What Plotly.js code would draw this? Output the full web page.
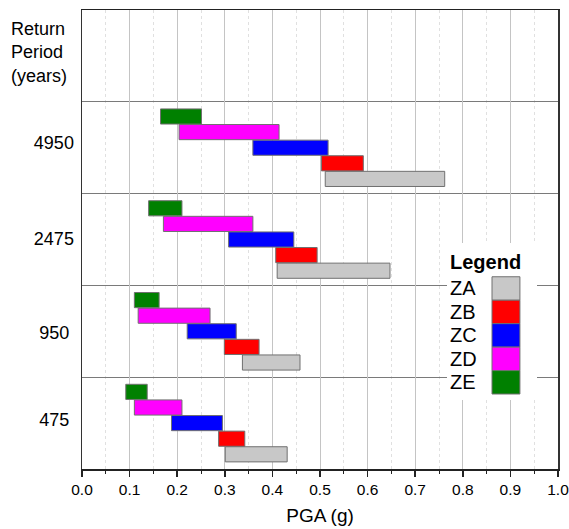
<!DOCTYPE html>
<html><head><meta charset="utf-8">
<script src="https://cdn.plot.ly/plotly-3.0.1.min.js"></script>
<style>html,body{margin:0;padding:0;background:#fff}#chart{width:569px;height:529px}</style>
</head><body><div id="chart"></div>
<script>
// Categories
const returnPeriods = ['475', '950', '2475', '4950'];
const periodLabels = ['475\u2005', '950\u2005', '2475', '4950'];
const zones = ['ZA', 'ZB', 'ZC', 'ZD', 'ZE'];
const zoneColors = ['#c8c8c8', '#ff0000', '#0000ff', '#ff00ff', '#008000'];
const pgaTicks = [0, 0.1, 0.2, 0.3, 0.4, 0.5, 0.6, 0.7, 0.8, 0.9, 1.0];

// PGA ranges (g), one value per return period [475, 950, 2475, 4950]
const zaLow  = [0.301, 0.337, 0.410, 0.511];
const zaHigh = [0.431, 0.458, 0.647, 0.762];
const zbLow  = [0.287, 0.299, 0.407, 0.503];
const zbHigh = [0.342, 0.372, 0.494, 0.591];
const zcLow  = [0.188, 0.221, 0.308, 0.359];
const zcHigh = [0.295, 0.324, 0.445, 0.517];
const zdLow  = [0.110, 0.118, 0.171, 0.204];
const zdHigh = [0.210, 0.269, 0.359, 0.414];
const zeLow  = [0.092, 0.110, 0.140, 0.165];
const zeHigh = [0.137, 0.162, 0.210, 0.251];

const lows  = [zaLow, zbLow, zcLow, zdLow, zeLow];
const highs = [zaHigh, zbHigh, zcHigh, zdHigh, zeHigh];

const FONT = '"Liberation Sans", Arial, Helvetica, sans-serif';
const offsets = [0.16, 0.33, 0.5, 0.67, 0.84]; // slot of each zone inside a band
const barH = 0.165;

const traces = [];
zones.forEach((z, i) => {
  traces.push({
    type: 'bar', orientation: 'h', name: z,
    y: returnPeriods.map((_, k) => k + offsets[i]),
    base: lows[i],
    x: highs[i].map((h, k) => h - lows[i][k]),
    width: barH,
    marker: {color: zoneColors[i], line: {color: '#707070', width: 1}},
    xaxis: 'x', yaxis: 'y', showlegend: false, hoverinfo: 'skip'
  });
});
// custom legend panel drawn as a tiny bar subplot
traces.push({
  type: 'bar', orientation: 'h',
  y: zones.map((_, i) => 4 - i),
  base: zones.map(() => 0.5),
  x: zones.map(() => 0.31),
  width: 1,
  marker: {color: zoneColors, line: {color: '#707070', width: 1}},
  xaxis: 'x3', yaxis: 'y3', showlegend: false, hoverinfo: 'skip'
});

const layout = {
  width: 569, height: 529,
  margin: {l: 82, r: 11, t: 10, b: 60},
  paper_bgcolor: '#ffffff', plot_bgcolor: '#ffffff',
  font: {family: FONT, color: '#000000', size: 16},
  showlegend: false, barmode: 'overlay',
  xaxis: {
    range: [0, 1], tickmode: 'array', tickvals: pgaTicks,
    ticktext: pgaTicks.map(v => v.toFixed(1)), ticklabeloverflow: 'allow',
    showline: true, linecolor: '#222', linewidth: 1.5, mirror: true,
    ticks: 'outside', ticklen: 6, tickwidth: 1.5, tickcolor: '#222',
    showgrid: true, gridcolor: '#c4c4c4', gridwidth: 1, zeroline: false,
    tickfont: {size: 15.5, color: '#000'},
    title: {text: 'PGA (g)', font: {size: 19, color: '#000'}, standoff: 11},
    minor: {tickmode: 'linear', tick0: 0, dtick: 0.05, ticks: 'outside', ticklen: 3,
            tickcolor: '#222', tickwidth: 1,
            showgrid: true, gridcolor: '#e0e0e0', griddash: 'dot', gridwidth: 1},
    fixedrange: true
  },
  yaxis: {
    range: [0, 5], tickmode: 'array', tickvals: [0.533, 1.48, 2.51, 3.555], ticktext: periodLabels,
    showline: true, linecolor: '#333', linewidth: 1.5, mirror: true,
    ticks: '', showgrid: false, zeroline: false,
    tickfont: {size: 18, color: '#000'}, ticklabelstandoff: 3, fixedrange: true,
    minor: {tickmode: 'array', tickvals: [1, 2, 3, 4], ticks: '',
            showgrid: true, gridcolor: '#7a7a7a', gridwidth: 1}
  },
  xaxis3: {domain: [0.7668, 0.9559], anchor: 'y3', range: [0, 1],
    showgrid: false, showticklabels: false, ticks: '', showline: false, zeroline: false},
  yaxis3: {domain: [0.1503, 0.4924], anchor: 'x3', range: [-0.755, 5.94],
    tickmode: 'array', tickvals: [4, 3, 2, 1, 0, 5.13], ticktext: zones.concat(['<b>Legend</b>']),
    ticklabelposition: 'inside', ticks: '', showgrid: false, zeroline: false, showline: false,
    tickfont: {size: 20, color: '#000'}},
  annotations: [{
    xref: 'paper', yref: 'y', x: -0.1534, y: 4.54, xanchor: 'left', yanchor: 'middle',
    align: 'left', showarrow: false, text: 'Return<br>Period<br>(years)',
    font: {size: 18, color: '#000'}
  }]
};

Plotly.newPlot('chart', traces, layout, {displayModeBar: false, staticPlot: true});
</script>
</body></html>
